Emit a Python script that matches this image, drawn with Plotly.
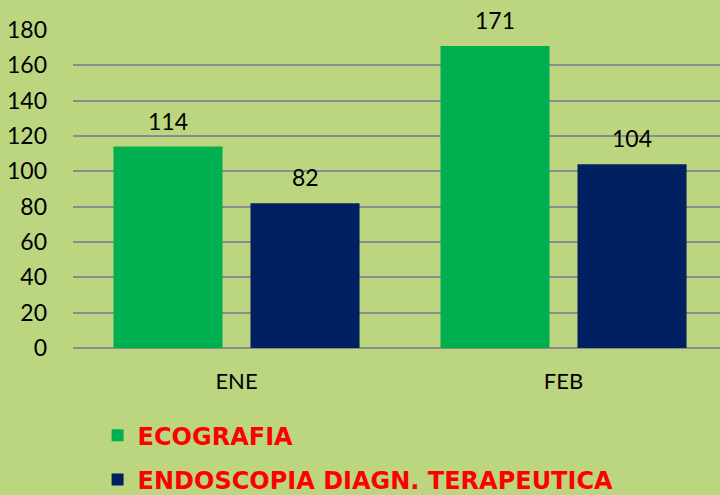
import plotly.graph_objects as go

categories = ["ENE", "FEB"]
ecografia = [114, 171]
endoscopia = [82, 104]
series_names = ["ECOGRAFIA", "ENDOSCOPIA DIAGN. TERAPEUTICA"]
series_colors = ["#00B050", "#002060"]
y_ticks = [0, 20, 40, 60, 80, 100, 120, 140, 160, 180]

BG = "#BBD67F"
FONT = "Lato"

fig = go.Figure()
for i, (name, vals, col) in enumerate(zip(series_names, [ecografia, endoscopia], series_colors)):
    fig.add_trace(go.Bar(
        x=categories, y=vals, name=name, marker_color=col,
        marker_line_width=0, legendgroup=f"g{i}",
    ))

# data labels
bar_offset = 0.2095
for i, vals in enumerate([ecografia, endoscopia]):
    sign = -1 if i == 0 else 1
    for j, v in enumerate(vals):
        fig.add_annotation(
            x=j + sign * bar_offset, y=v, xref="x", yref="y",
            text=str(v), showarrow=False, yanchor="middle", yshift=26,
            font=dict(family=FONT, size=23, color="black"),
        )

fig.update_layout(
    width=720, height=495,
    paper_bgcolor=BG, plot_bgcolor=BG,
    margin=dict(l=73, r=0, t=30, b=147, autoexpand=False),
    barmode="group", bargap=0.162, bargroupgap=0.204,
    font=dict(family=FONT, size=22, color="black"),
    showlegend=True,
    legend=dict(
        x=0.038, xanchor="left", y=-0.205, yanchor="top",
        bgcolor="rgba(0,0,0,0)", tracegroupgap=10, borderwidth=0,
        font=dict(family="DejaVu Sans", size=24, color="#FF0000", weight="bold"),
        orientation="v",
    ),
    xaxis=dict(
        type="category", range=[-0.5, 1.4786], showgrid=False,
        showline=False, zeroline=False, ticks="", ticklabelstandoff=18,
        tickfont=dict(family=FONT, size=22),
    ),
    yaxis=dict(
        range=[0, 180], tickvals=y_ticks, showgrid=True,
        gridcolor="#8C8C8C", gridwidth=2, zeroline=True, zerolinecolor="#8C8C8C",
        zerolinewidth=2, showline=False, ticks="", ticklabelstandoff=25,
        tickfont=dict(family=FONT, size=23),
    ),
)

fig.write_html(
    "out.html",
    config={"displayModeBar": False},
    post_script="document.body.style.margin='0';document.body.style.padding='0';",
)
